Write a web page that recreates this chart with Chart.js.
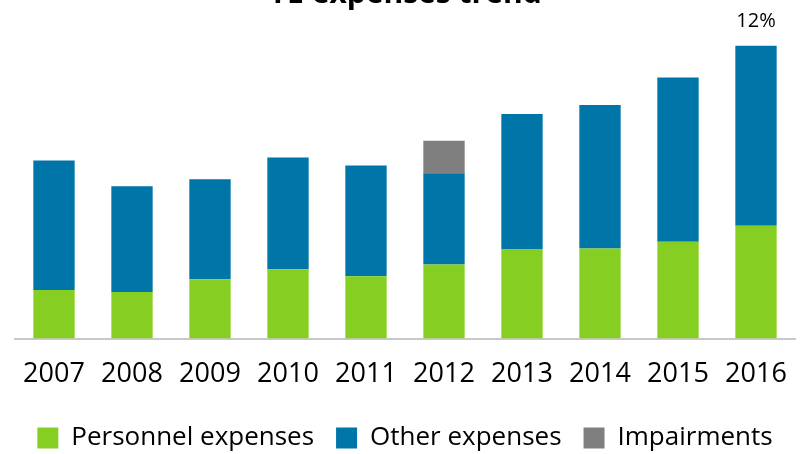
<!DOCTYPE html>
<html>
<head>
<meta charset="utf-8">
<script src="https://cdn.jsdelivr.net/npm/chart.js@4/dist/chart.umd.min.js"></script>
<style>
  html, body { margin: 0; padding: 0; background: #fff; overflow: hidden; }
  #wrap { position: absolute; left: 0; top: -24px; width: 800px; height: 485px; }
</style>
</head>
<body>
<div id="wrap"><canvas id="expChart"></canvas></div>
<script>
const years = ['2007', '2008', '2009', '2010', '2011', '2012', '2013', '2014', '2015', '2016'];
const personnel = [49, 47, 60, 70, 63, 75, 90, 91, 98, 114];
const other = [131, 107, 101, 113, 112, 92, 137, 145, 166, 182];
const impairments = [0, 0, 0, 0, 0, 33, 0, 0, 0, 0];
const topLabels = ['', '', '', '', '', '', '', '', '', '12%'];

const fontFamily = "'Open Sans', 'Liberation Sans', sans-serif";

// writes the growth label above the last stacked bar
const topLabelPlugin = {
  id: 'topLabel',
  afterDatasetsDraw(chart) {
    const ctx = chart.ctx;
    const meta = chart.getDatasetMeta(1);
    ctx.save();
    ctx.font = '20px ' + fontFamily;
    ctx.fillStyle = '#000';
    ctx.textAlign = 'center';
    ctx.textBaseline = 'bottom';
    topLabels.forEach((txt, i) => {
      if (!txt) return;
      const bar = meta.data[i];
      ctx.fillText(txt, bar.x, bar.y - 14);
    });
    ctx.restore();
  }
};

new Chart(document.getElementById('expChart'), {
  type: 'bar',
  data: {
    labels: years,
    datasets: [
      { label: 'Personnel expenses', data: personnel, backgroundColor: '#86cf22' },
      { label: 'Other expenses', data: other, backgroundColor: '#0075a8' },
      { label: 'Impairments', data: impairments, backgroundColor: '#7f7f7f' }
    ]
  },
  options: {
    responsive: true,
    maintainAspectRatio: false,
    animation: false,
    layout: { padding: { left: 15, right: 5, top: 0, bottom: 0 } },
    datasets: { bar: { barPercentage: 0.53, categoryPercentage: 1 } },
    plugins: {
      title: {
        display: true,
        text: 'YE expenses trend',
        color: '#000',
        font: { family: fontFamily, size: 30, weight: 'bold' },
        padding: { top: 0, bottom: 10 }
      },
      legend: {
        position: 'bottom',
        labels: {
          color: '#000',
          font: { family: fontFamily, size: 26 },
          boxWidth: 21,
          boxHeight: 21,
          padding: 22
        }
      },
      tooltip: { enabled: false }
    },
    scales: {
      x: {
        stacked: true,
        grid: { display: false },
        border: { display: true, color: '#c8c8c8', width: 2 },
        ticks: { color: '#000', font: { family: fontFamily, size: 27 }, padding: 12 }
      },
      y: {
        stacked: true,
        display: false,
        min: 0,
        max: 320
      }
    }
  },
  plugins: [topLabelPlugin]
});
</script>
</body>
</html>
